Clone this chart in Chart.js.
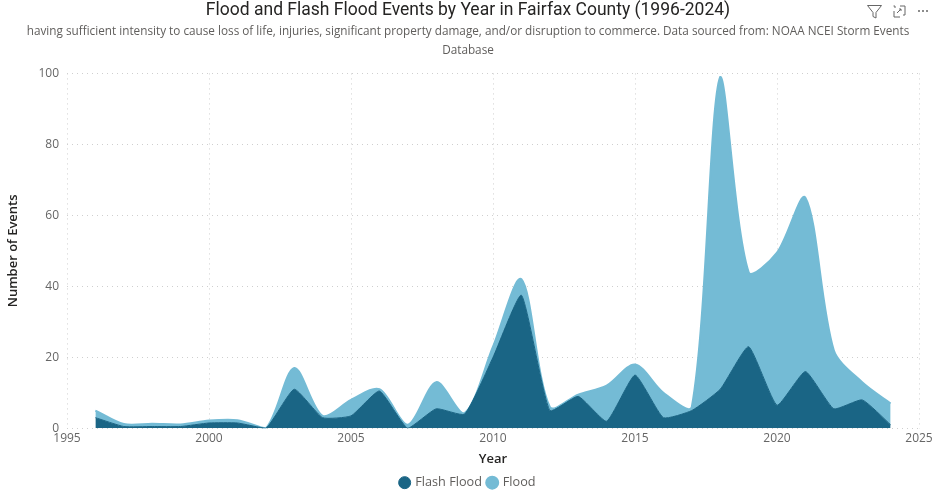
<!DOCTYPE html>
<html>
<head>
<meta charset="utf-8">
<style>
  html, body { margin: 0; padding: 0; background: #fff; }
  #wrap { position: relative; width: 936px; height: 500px; }
  #icons { position: absolute; left: 866px; top: 3px; }
</style>
<script src="https://cdn.jsdelivr.net/npm/chart.js@4"></script>
</head>
<body>
<div id="wrap">
  <canvas id="floodChart" width="936" height="500"></canvas>
  <svg id="icons" width="66" height="18" fill="none" stroke="#666" stroke-width="1">
    <path d="M1.500 2.500h14l-5.500 7v5.500l-3-1.500v-4z"/>
    <path d="M29 5V3h-1.500M34 3h5v9h-2M28 8v6h6M31 10l4-4M33 6h2v2"/>
    <g fill="#666" stroke="none"><circle cx="53" cy="8" r="1"/><circle cx="57" cy="8" r="1"/><circle cx="61" cy="8" r="1"/></g>
  </svg>
</div>
<script>
const years = [1996, 1997, 1998, 1999, 2000, 2001, 2002, 2003, 2004, 2005, 2006, 2007, 2008, 2009, 2010, 2011, 2012, 2013, 2014, 2015, 2016, 2017, 2018, 2019, 2020, 2021, 2022, 2023, 2024];
const flashFlood = [3, 0.5, 0.5, 0.5, 1.5, 1.5, 0, 11, 3, 3.5, 10.5, 0, 5.5, 4, 20, 37.5, 5, 9, 2, 15, 3, 5, 11, 23, 6.5, 16, 5.5, 8, 1];
const flood = [2, 0.7, 0.8, 0.6, 0.7, 0.8, 0, 6, 0.5, 4.5, 0.5, 1, 7.5, 0.3, 3, 4.5, 1, 0.5, 10, 3, 7, 1, 88, 21, 43, 49, 16.5, 5, 6];

const titleText = "Flood and Flash Flood Events by Year in Fairfax County (1996-2024)";
const subtitleLines = [
  "having sufficient intensity to cause loss of life, injuries, significant property damage, and/or disruption to commerce. Data sourced from: NOAA NCEI Storm Events",
  "Database"
];

function toPoints(values) {
  return years.map((year, i) => ({ x: year, y: values[i] }));
}

const dottedGrid = { color: "#cfcfcf", lineWidth: 1, tickLength: 0 };

new Chart(document.getElementById("floodChart"), {
  type: "line",
  data: {
    datasets: [
      {
        label: "Flash Flood",
        data: toPoints(flashFlood),
        borderColor: "#1a6585",
        backgroundColor: "#1a6585",
        borderWidth: 1,
        fill: "origin",
        tension: 0.15,
        pointRadius: 0,
      },
      {
        label: "Flood",
        data: toPoints(flood),
        borderColor: "#74bbd5",
        backgroundColor: "#74bbd5",
        borderWidth: 2,
        fill: "-1",
        tension: 0.3,
        pointRadius: 0,
      },
    ],
  },
  options: {
    responsive: false,
    animation: false,
    layout: { padding: { left: 0, right: 0, top: 0, bottom: 1 } },
    scales: {
      x: {
        type: "linear",
        min: 1995,
        max: 2025,
        grid: dottedGrid,
        border: { display: false, dash: [1, 4] },
        ticks: {
          stepSize: 5,
          color: "#666",
          padding: 3,
          maxRotation: 0,
          font: { family: "'Open Sans'", size: 12 },
          callback: (value) => String(value),
        },
        title: {
          display: true,
          text: "Year",
          color: "#252423",
          padding: { top: 3, bottom: 3 },
          font: { family: "'Open Sans'", size: 13, weight: "600" },
        },
        afterFit: (scale) => { scale.paddingRight = 17; },
      },
      y: {
        stacked: true,
        min: 0,
        max: 100,
        grid: dottedGrid,
        border: { display: false, dash: [1, 4] },
        ticks: {
          stepSize: 20,
          color: "#666",
          padding: 8,
          font: { family: "'Open Sans'", size: 12 },
        },
        title: {
          display: true,
          text: "Number of Events",
          color: "#252423",
          padding: { top: 5, bottom: 4 },
          font: { family: "'Open Sans'", size: 13, weight: "600" },
        },
        afterFit: (scale) => { scale.width = 67; },
      },
    },
    plugins: {
      title: {
        display: true,
        text: titleText,
        color: "#252423",
        padding: { top: 0, bottom: 2 },
        font: { family: "'Roboto'", size: 17.5, weight: "400" },
      },
      subtitle: {
        display: true,
        text: subtitleLines,
        color: "#605e5c",
        padding: { bottom: 14 },
        font: { family: "'Open Sans'", size: 11.75, lineHeight: 1.55 },
      },
      legend: {
        position: "bottom",
        labels: {
          usePointStyle: true,
          pointStyle: "circle",
          boxWidth: 8.5,
          boxHeight: 8.5,
          padding: 6,
          color: "#605e5c",
          font: { family: "'Open Sans'", size: 12.7 },
        },
      },
      tooltip: { enabled: false },
    },
  },
});
</script>
</body>
</html>
